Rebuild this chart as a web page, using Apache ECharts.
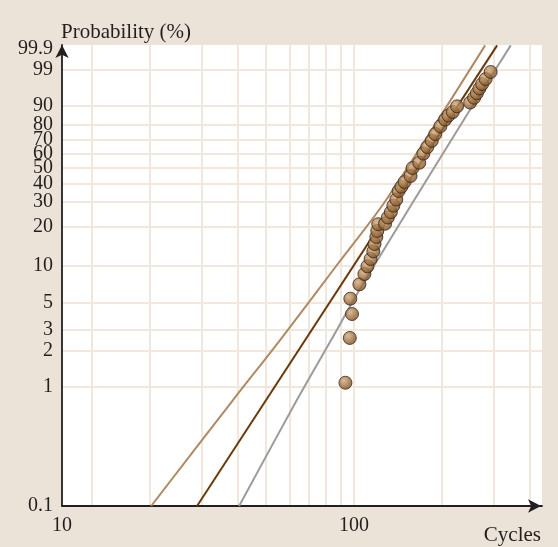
<!DOCTYPE html>
<html>
<head>
<meta charset="utf-8">
<script src="https://cdn.jsdelivr.net/npm/echarts@6/dist/echarts.min.js"></script>
<style>
  html, body { margin: 0; padding: 0; background: #ECE3D8; }
  #chart { width: 558px; height: 547px; }
</style>
</head>
<body>
<div id="chart"></div>
<script>
// Failures: cycles to failure and plotting position (%)
const failureCycles = [93.4, 96.7, 98.4, 97.1, 104.3, 108.5, 111.1, 113.9, 116.4, 117.5,
  119.2, 120.1, 121.0, 127.7, 130.5, 133.6, 136.3, 139.5, 142.1, 145.2,
  148.9, 156.1, 158.6, 167.2, 172.7, 178.1, 184.5, 189.7, 197.5, 205.0,
  210.4, 217.8, 225.3, 249.7, 257.6, 263.2, 268.6, 274.4, 282.1, 293.5];
const failureProb = [1.08, 2.55, 4.02, 5.37, 7.03, 8.51, 9.81, 11.22, 12.88, 14.70,
  16.64, 18.49, 20.80, 20.97, 23.30, 25.47, 28.37, 31.32, 35.80, 38.21,
  40.98, 44.69, 49.91, 53.50, 59.94, 64.57, 68.96, 73.66, 78.80, 82.90,
  85.16, 87.02, 89.77, 91.41, 93.22, 94.68, 95.99, 97.00, 97.90, 98.81];

// Weibull fit line (end points)
const fitCycles = [29.0, 308.9];
const fitProb = [0.1, 99.94];

// Lower confidence bound
const lowerCycles = [20.2, 38.5, 55.8, 87.9, 128.7, 281];
const lowerProb = [0.1, 0.774, 2.45, 10.24, 31.09, 99.94];

// Upper confidence bound
const upperCycles = [40.4, 63.7, 82.8, 107.6, 243.2, 344];
const upperProb = [0.1, 0.774, 2.37, 7.16, 85.45, 99.94];

// Axis ticks
const probTicks = [0.1, 1, 2, 3, 5, 10, 20, 30, 40, 50, 60, 70, 80, 90, 99, 99.9];
const probGrid = [1, 2, 3, 5, 10, 20, 30, 40, 50, 60, 70, 80, 90, 99];
const probMin = 0.1, probMax = 99.943;
const cycleLabels = [10, 100];
const cycleGrid = [12.6, 20, 30, 40, 50, 60, 70, 80, 90, 100, 200, 300, 400];
const cycleMin = 10, cycleMax = 440;

// Weibull probability paper transforms
const wb = p => Math.log(-Math.log(1 - p / 100));
const lg = c => Math.log10(c);

const pairs = (xs, ys) => xs.map((x, i) => [lg(x), wb(ys[i])]);

const ink = '#231F20';
const font = '"Liberation Serif", "Times New Roman", serif';

function probLabel(v) {
  let best = probTicks[0], d = Infinity;
  probTicks.forEach(p => { const e = Math.abs(wb(p) - v); if (e < d) { d = e; best = p; } });
  return String(best);
}

const chart = echarts.init(document.getElementById('chart'), null, { renderer: 'canvas' });
chart.setOption({
  animation: false,
  backgroundColor: '#ECE3D8',
  grid: {
    left: 62, right: 16, top: 45, bottom: 41,
    show: true, backgroundColor: '#FFFFFF', borderWidth: 0
  },
  xAxis: {
    type: 'value',
    min: lg(cycleMin), max: lg(cycleMax),
    axisLine: {
      show: true, onZero: false,
      lineStyle: { color: ink, width: 1.8 },
      symbol: ['none', 'arrow'], symbolSize: [10, 13], symbolOffset: [0, -1]
    },
    axisTick: { show: false, customValues: cycleGrid.map(lg) },
    splitLine: { show: true, lineStyle: { color: '#F1E7DC', width: 2 } },
    axisLabel: {
      customValues: cycleLabels.map(lg),
      formatter: v => String(Math.round(Math.pow(10, v))),
      color: ink, fontFamily: font, fontSize: 20, margin: 10
    }
  },
  yAxis: {
    type: 'value',
    min: wb(probMin), max: wb(probMax),
    axisLine: {
      show: true, onZero: false,
      lineStyle: { color: ink, width: 1.8 },
      symbol: ['none', 'arrow'], symbolSize: [10, 13], symbolOffset: [0, 0]
    },
    axisTick: { show: false, customValues: probGrid.map(wb) },
    splitLine: { show: true, lineStyle: { color: '#F1E7DC', width: 2 } },
    axisLabel: {
      customValues: probTicks.map(wb),
      formatter: probLabel,
      color: ink, fontFamily: font, fontSize: 20, margin: 9
    }
  },
  graphic: [
    { type: 'text', x: 61, y: 32, style: { text: 'Probability (%)', font: '21px ' + font, fill: ink, align: 'left', verticalAlign: 'middle' } },
    { type: 'text', x: 541, y: 535, style: { text: 'Cycles', font: '21px ' + font, fill: ink, align: 'right', verticalAlign: 'middle' } }
  ],
  series: [
    {
      type: 'line', data: pairs(lowerCycles, lowerProb), showSymbol: false, smooth: 0.3,
      lineStyle: { color: '#B08A62', width: 2 }, z: 2, silent: true
    },
    {
      type: 'line', data: pairs(upperCycles, upperProb), showSymbol: false, smooth: 0.3,
      lineStyle: { color: '#9B9B9B', width: 2 }, z: 2, silent: true
    },
    {
      type: 'line', data: pairs(fitCycles, fitProb), showSymbol: false,
      lineStyle: { color: '#6B3A0C', width: 2 }, z: 3, silent: true
    },
    {
      type: 'scatter', data: pairs(failureCycles, failureProb), symbolSize: 13, z: 5,
      itemStyle: {
        color: new echarts.graphic.RadialGradient(0.38, 0.35, 0.7, [
          { offset: 0, color: '#D2AA7E' },
          { offset: 0.55, color: '#A0713F' },
          { offset: 1, color: '#6E4A28' }
        ]),
        borderColor: '#35271B', borderWidth: 1
      }
    }
  ]
});
</script>
</body>
</html>
